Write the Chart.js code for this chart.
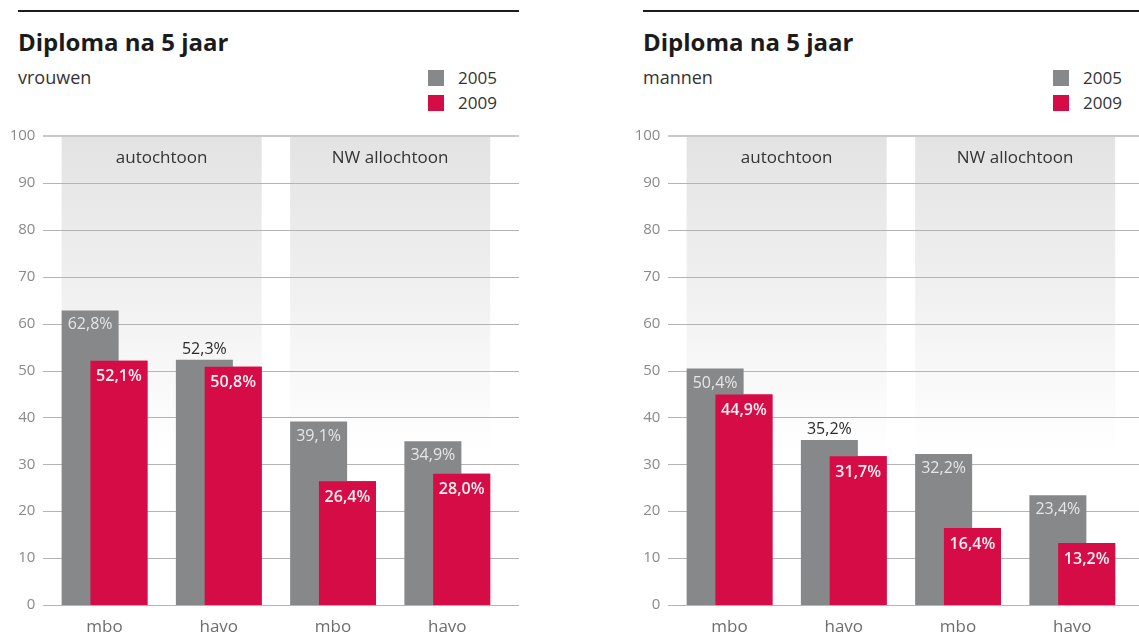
<!DOCTYPE html>
<html>
<head>
<meta charset="utf-8">
<script src="https://cdn.jsdelivr.net/npm/chart.js@4"></script>
<style>
html,body{margin:0;padding:0;background:#fff;}
body{width:1139px;height:637px;position:relative;overflow:hidden;font-family:"Open Sans",sans-serif;}
.panel{position:absolute;top:0;height:637px;overflow:hidden;}
.rule{position:absolute;left:18px;top:10px;height:2px;background:#1c1c1c;}
.title{position:absolute;left:18px;top:30px;font-size:24px;font-weight:700;line-height:24px;color:#1b1b1b;white-space:nowrap;}
.sub{position:absolute;left:18px;top:68px;font-size:18px;line-height:18px;color:#333;white-space:nowrap;}
.sw{position:absolute;left:428px;width:16px;height:16px;}
.lt{position:absolute;left:458px;font-size:17px;line-height:17px;color:#333;}
canvas{position:absolute;left:0;top:120px;}
</style>
</head>
<body>
<div class="panel" style="left:0;width:540px">
  <div class="rule" style="width:501px"></div>
  <div class="title" id="t1"></div>
  <div class="sub" id="s1"></div>
  <div class="sw" id="sw1a" style="top:70px"></div><div class="lt" id="l1a" style="top:69px"></div>
  <div class="sw" id="sw1b" style="top:95px"></div><div class="lt" id="l1b" style="top:94px"></div>
  <canvas id="c1" width="540" height="517"></canvas>
</div>
<div class="panel" style="left:625px;width:514px">
  <div class="rule" style="width:496px"></div>
  <div class="title" id="t2"></div>
  <div class="sub" id="s2"></div>
  <div class="sw" id="sw2a" style="top:70px"></div><div class="lt" id="l2a" style="top:69px"></div>
  <div class="sw" id="sw2b" style="top:95px"></div><div class="lt" id="l2b" style="top:94px"></div>
  <canvas id="c2" width="514" height="517"></canvas>
</div>
<script>
// ---- data ----
const titleText = 'Diploma na 5 jaar';
const panelNames = ['vrouwen', 'mannen'];
const categories = ['mbo', 'havo', 'mbo', 'havo'];
const groupNames = ['autochtoon', 'NW allochtoon'];
const seriesNames = ['2005', '2009'];
const vrouwen2005 = [62.8, 52.3, 39.1, 34.9];
const vrouwen2009 = [52.1, 50.8, 26.4, 28.0];
const mannen2005 = [50.4, 35.2, 32.2, 23.4];
const mannen2009 = [44.9, 31.7, 16.4, 13.2];
const yMin = 0, yMax = 100, yStep = 10;

// ---- styles ----
const GRAY = '#87888a';
const RED = '#d50c45';
const FONT = "'Open Sans', sans-serif";
Chart.defaults.font.family = FONT;

function fmt(v){ return v.toFixed(1).replace('.', ',') + '%'; }

const bgPlugin = {
  id: 'bgPanels',
  beforeDatasetsDraw(chart){
    const {ctx, scales:{y}} = chart;
    const m0 = chart.getDatasetMeta(0), m1 = chart.getDatasetMeta(1);
    const yTop = y.getPixelForValue(yMax), yBot = y.getPixelForValue(yMin);
    ctx.save();
    groupNames.forEach((name, g) => {
      const a = m0.data[g*2], b = m1.data[g*2+1];
      const x0 = a.x - a.width/2, x1 = b.x + b.width/2;
      const grad = ctx.createLinearGradient(0, yTop, 0, yBot);
      grad.addColorStop(0, '#e3e3e3');
      grad.addColorStop(0.1, '#e7e7e7');
      grad.addColorStop(0.3, '#efefef');
      grad.addColorStop(0.5, '#f8f8f8');
      grad.addColorStop(0.68, '#ffffff');
      grad.addColorStop(1, '#ffffff');
      ctx.fillStyle = grad;
      ctx.fillRect(x0, yTop, x1 - x0, yBot - yTop);
      ctx.fillStyle = '#333';
      ctx.font = '17px ' + FONT;
      ctx.textAlign = 'center';
      ctx.textBaseline = 'alphabetic';
      ctx.fillText(name, (x0 + x1)/2, y.getPixelForValue(95) + 4);
    });
    // grid lines (extend past the plot area like the original)
    y.ticks.forEach(t => {
      const py = Math.round(y.getPixelForValue(t.value));
      ctx.beginPath();
      if (t.value === yMax){ ctx.strokeStyle = '#c9c9c9'; ctx.lineWidth = 2; ctx.moveTo(43, py); ctx.lineTo(519, py); }
      else { ctx.strokeStyle = '#b4b4b4'; ctx.lineWidth = 1; ctx.moveTo(43, py + 0.5); ctx.lineTo(519, py + 0.5); }
      ctx.stroke();
    });
    ctx.restore();
  }
};

const labelPlugin = {
  id: 'valueLabels',
  afterDatasetsDraw(chart){
    const {ctx} = chart;
    const d0 = chart.data.datasets[0].data, d1 = chart.data.datasets[1].data;
    const m0 = chart.getDatasetMeta(0), m1 = chart.getDatasetMeta(1);
    // 2009 bars sit in front of the 2005 bars
    m1.data.forEach(el => el.draw(ctx));
    ctx.save();
    ctx.textAlign = 'center';
    ctx.textBaseline = 'alphabetic';
    d0.forEach((v, i) => {
      const g = m0.data[i], r = m1.data[i];
      ctx.font = '16px ' + FONT;
      if (r.y - g.y < 22){
        ctx.fillStyle = '#2a2a2a';
        ctx.fillText(fmt(v), g.x, g.y - 5.5);
      } else {
        ctx.fillStyle = '#e6e6e6';
        ctx.fillText(fmt(v), g.x, g.y + 19);
      }
      ctx.font = '600 16px ' + FONT;
      ctx.fillStyle = '#fff0f4';
      ctx.fillText(fmt(d1[i]), r.x, r.y + 20.5);
    });
    ctx.restore();
  }
};

function makeChart(id, d2005, d2009, canvasWidth){
  return new Chart(document.getElementById(id), {
    type: 'bar',
    data: {
      labels: categories,
      datasets: [
        {label: seriesNames[0], data: d2005, backgroundColor: GRAY, borderWidth: 0, categoryPercentage: 0.504, barPercentage: 1.98},
        {label: seriesNames[1], data: d2009, backgroundColor: RED, borderWidth: 0, categoryPercentage: 0.504, barPercentage: 1.98}
      ]
    },
    options: {
      responsive: false,
      animation: false,
      events: [],
      layout: {padding: {left: 0, right: canvasWidth - 504.4, top: 16, bottom: 0}},
      plugins: {legend: {display: false}, tooltip: {enabled: false}},
      scales: {
        x: {
          grid: {display: false, drawTicks: false},
          border: {display: false},
          ticks: {color: '#6e6e6e', font: {size: 17}, padding: 12},
          afterFit(s){ s.height = 32; }
        },
        y: {
          min: yMin, max: yMax,
          grid: {display: false, drawTicks: false},
          border: {display: false},
          ticks: {stepSize: yStep, color: '#8a8a8a', font: {size: 15}, padding: 12},
          afterFit(s){ s.width = 47.4; s.paddingTop = 8; s.paddingBottom = 8; }
        }
      }
    },
    plugins: [bgPlugin, labelPlugin]
  });
}

[['1', 0], ['2', 1]].forEach(([k, i]) => {
  document.getElementById('t' + k).textContent = titleText;
  document.getElementById('s' + k).textContent = panelNames[i];
  document.getElementById('sw' + k + 'a').style.background = GRAY;
  document.getElementById('sw' + k + 'b').style.background = RED;
  document.getElementById('l' + k + 'a').textContent = seriesNames[0];
  document.getElementById('l' + k + 'b').textContent = seriesNames[1];
});

makeChart('c1', vrouwen2005, vrouwen2009, 540);
makeChart('c2', mannen2005, mannen2009, 514);
</script>
</body>
</html>
